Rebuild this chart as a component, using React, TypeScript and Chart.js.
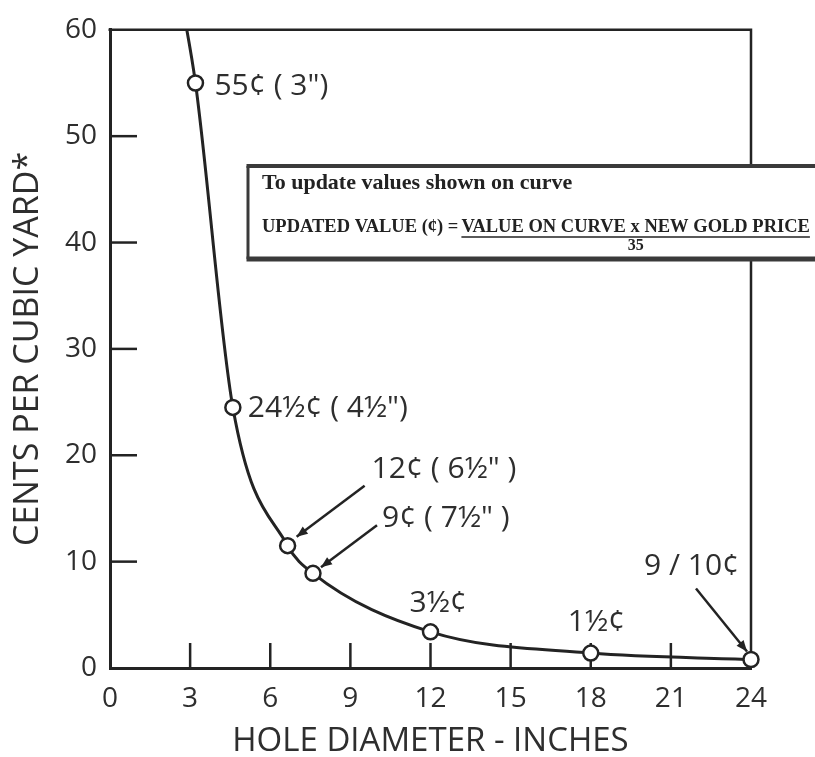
import React, { useEffect, useRef } from "react";
import { Chart, registerables } from "chart.js";

Chart.register(...registerables);

// ---------- data ----------
const holeDiameter = [2.7, 3.2, 4.6, 6.65, 7.6, 12, 18, 24];
const centsPerYard = [62.5, 55, 24.5, 11.5, 8.9, 3.4, 1.4, 0.8];
const markerShown = [false, true, true, true, true, true, true, true];
const pointLabels = ["", "55¢ ( 3\")", "24½¢ ( 4½\")", "12¢ ( 6½\" )", "9¢ ( 7½\" )", "3½¢", "1½¢", "9 / 10¢"];
const xTickValues = [0, 3, 6, 9, 12, 15, 18, 21, 24];
const yTickValues = [0, 10, 20, 30, 40, 50, 60];
const xTitle = "HOLE DIAMETER - INCHES";
const yTitle = "CENTS PER CUBIC YARD*";
const noteLine1 = "To update values shown on curve";
const noteLhs = "UPDATED VALUE (¢) =";
const noteNumerator = "VALUE ON CURVE x NEW GOLD PRICE";
const noteDenominator = "35";

// ---------- styling / layout ----------
const INK = "#232323";
const TEXT = "#2e2e2e";
const SANS = "'Open Sans', 'DejaVu Sans', sans-serif";
const SERIF = "'Liberation Serif', 'DejaVu Serif', serif";
// label offsets (px) from their point
const labelOffsets: (number[] | null)[] = [null, [19, 3], [15, 1], [84, -76], [69, -55], [-21, -28], [-23, -31], [-107, -93]];
// arrows: [startDx, startDy, endDx, endDy] relative to point
const arrowOffsets: Record<number, number[]> = {
  3: [77, -60, 9, -9],
  4: [64, -48, 8, -6],
  7: [-55, -71, -4, -8],
};

const framePlugin = {
  id: "frameAndMarks",
  beforeDatasetsDraw(chart: any) {
    const { ctx, chartArea: a, scales } = chart;
    ctx.save();
    ctx.strokeStyle = INK;
    ctx.lineWidth = 2.5;
    ctx.lineCap = "butt";
    ctx.beginPath();
    ctx.moveTo(a.left - 1.5, a.top);
    ctx.lineTo(a.right, a.top);
    ctx.lineTo(a.right, a.bottom);
    ctx.stroke();
    // inward tick marks
    ctx.lineWidth = 2.5;
    for (const v of yTickValues) {
      if (v === 0 || v === 60) continue;
      const y = scales.y.getPixelForValue(v);
      ctx.beginPath();
      ctx.moveTo(a.left, y);
      ctx.lineTo(a.left + 27, y);
      ctx.stroke();
    }
    for (const v of xTickValues) {
      if (v === 0 || v === 24) continue;
      const x = scales.x.getPixelForValue(v);
      ctx.beginPath();
      ctx.moveTo(x, a.bottom);
      ctx.lineTo(x, a.bottom - 25);
      ctx.stroke();
    }
    ctx.restore();
  },
  afterDatasetsDraw(chart: any) {
    const { ctx, scales } = chart;
    ctx.save();
    ctx.fillStyle = TEXT;
    ctx.strokeStyle = INK;
    ctx.font = `30px ${SANS}`;
    ctx.textBaseline = "middle";
    ctx.textAlign = "left";
    holeDiameter.forEach((xv, i) => {
      const off = labelOffsets[i];
      if (!off) return;
      const px = scales.x.getPixelForValue(xv);
      const py = scales.y.getPixelForValue(centsPerYard[i]);
      ctx.fillText(pointLabels[i], px + off[0], py + off[1]);
      const ar = arrowOffsets[i];
      if (ar) {
        const x1 = px + ar[0], y1 = py + ar[1], x2 = px + ar[2], y2 = py + ar[3];
        ctx.lineWidth = 2.5;
        ctx.beginPath();
        ctx.moveTo(x1, y1);
        ctx.lineTo(x2, y2);
        ctx.stroke();
        const ang = Math.atan2(y2 - y1, x2 - x1);
        const L = 11, W = 4.5;
        ctx.beginPath();
        ctx.moveTo(x2, y2);
        ctx.lineTo(x2 - L * Math.cos(ang) + W * Math.sin(ang), y2 - L * Math.sin(ang) - W * Math.cos(ang));
        ctx.lineTo(x2 - L * Math.cos(ang) - W * Math.sin(ang), y2 - L * Math.sin(ang) + W * Math.cos(ang));
        ctx.closePath();
        ctx.fillStyle = INK;
        ctx.fill();
        ctx.fillStyle = TEXT;
      }
    });
    ctx.restore();
  },
  afterDraw(chart: any) {
    const { ctx, width } = chart;
    const bx = 248, top = 166, bottom = 259;
    ctx.save();
    ctx.fillStyle = "#ffffff";
    ctx.fillRect(bx, top, width - bx + 10, bottom - top);
    ctx.strokeStyle = "#3a3a3a";
    ctx.lineWidth = 4;
    ctx.beginPath();
    ctx.moveTo(bx - 1.5, top);
    ctx.lineTo(width + 5, top);
    ctx.stroke();
    ctx.lineWidth = 5;
    ctx.beginPath();
    ctx.moveTo(bx - 1.5, bottom);
    ctx.lineTo(width + 5, bottom);
    ctx.stroke();
    ctx.lineWidth = 3;
    ctx.beginPath();
    ctx.moveTo(bx, top);
    ctx.lineTo(bx, bottom);
    ctx.stroke();

    ctx.fillStyle = "#222";
    ctx.textBaseline = "alphabetic";
    ctx.textAlign = "left";
    ctx.font = `bold 22px ${SERIF}`;
    ctx.fillText(noteLine1, 262, 189);
    ctx.font = `bold 18.5px ${SERIF}`;
    ctx.fillText(noteLhs, 262, 232);
    const lhsW = ctx.measureText(noteLhs).width;
    const nx = 262 + lhsW + 3;
    ctx.fillText(noteNumerator, nx, 232);
    const nW = ctx.measureText(noteNumerator).width;
    ctx.lineWidth = 1.5;
    ctx.strokeStyle = "#222";
    ctx.beginPath();
    ctx.moveTo(nx, 237);
    ctx.lineTo(nx + nW, 237);
    ctx.stroke();
    ctx.font = `bold 16px ${SERIF}`;
    ctx.textAlign = "center";
    ctx.fillText(noteDenominator, nx + nW / 2, 250);
    ctx.restore();
  },
};

export default function App() {
  const ref = useRef<HTMLCanvasElement | null>(null);
  useEffect(() => {
    if (!ref.current) return;
    const chart = new Chart(ref.current, {
      type: "line",
      data: {
        datasets: [
          {
            data: holeDiameter.map((x, i) => ({ x, y: centsPerYard[i] })),
            borderColor: INK,
            borderWidth: 3,
            cubicInterpolationMode: "monotone",
            pointRadius: markerShown.map((m) => (m ? 7.5 : 0)),
            pointBackgroundColor: "#ffffff",
            pointBorderColor: INK,
            pointBorderWidth: 2.5,
            clip: { left: 10, top: 0, right: 14, bottom: 14 } as any,
          },
        ],
      },
      options: {
        responsive: false,
        animation: false,
        devicePixelRatio: 1,
        layout: { padding: { top: 28, right: 64, left: 0, bottom: 0 } },
        plugins: { legend: { display: false }, tooltip: { enabled: false } },
        scales: {
          x: {
            type: "linear",
            min: 0,
            max: 24,
            afterBuildTicks: (s: any) => {
              s.ticks = xTickValues.map((v) => ({ value: v }));
            },
            afterFit: (s: any) => {
              s.height = 89;
            },
            grid: { display: false, drawTicks: false },
            border: { display: true, color: INK, width: 3 },
            ticks: { color: TEXT, font: { family: SANS, size: 28 }, padding: 14, maxRotation: 0 },
            title: {
              display: true,
              text: xTitle,
              color: TEXT,
              font: { family: SANS, size: 33, lineHeight: 1 },
              padding: { top: 0, bottom: -1 },
            },
          },
          y: {
            type: "linear",
            min: 0,
            max: 60,
            afterBuildTicks: (s: any) => {
              s.ticks = yTickValues.map((v) => ({ value: v }));
            },
            afterFit: (s: any) => {
              s.width = 110;
            },
            grid: { display: false, drawTicks: false },
            border: { display: true, color: INK, width: 3 },
            ticks: { color: TEXT, font: { family: SANS, size: 28 }, padding: 13 },
            title: {
              display: true,
              text: yTitle,
              color: TEXT,
              font: { family: SANS, size: 34, lineHeight: 1 },
              padding: { top: 11, bottom: 0 },
            },
          },
        },
      },
      plugins: [framePlugin],
    } as any);
    return () => chart.destroy();
  }, []);
  return (
    <div style={{ position: "fixed", left: 0, top: 0, width: 815, height: 757, background: "#fff" }}>
      <canvas ref={ref} width={815} height={757} style={{ display: "block" }} />
    </div>
  );
}
